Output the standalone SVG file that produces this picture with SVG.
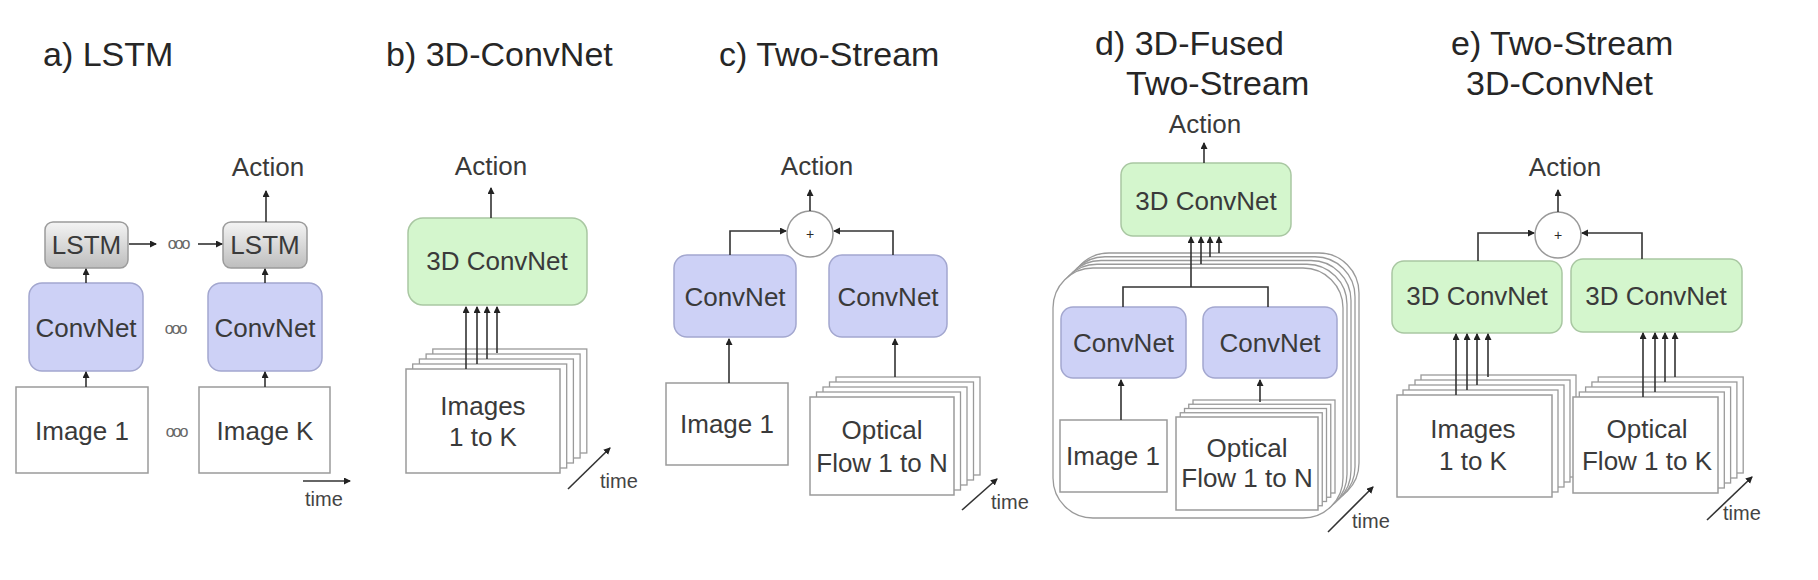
<svg xmlns="http://www.w3.org/2000/svg" width="1818" height="580" viewBox="0 0 1818 580">
<style>
.t{font-family:"Liberation Sans",Arial,sans-serif;fill:#2a2a2a;}
.title{font-size:34px;fill:#262626;}
.lbl{font-size:26px;text-anchor:middle;fill:#3a3a3a;}
.act{font-size:26px;text-anchor:middle;fill:#3a3a3a;}
.tm{font-size:20px;fill:#444;}
.dots{font-size:16px;fill:#666;letter-spacing:-2px;text-anchor:middle;}
.img{fill:#fff;stroke:#9a9a9a;stroke-width:1.5;}
.cn{fill:#cdd1f6;stroke:#a3a7cf;stroke-width:1.5;}
.g3{fill:#d4f6cd;stroke:#a9c7a2;stroke-width:1.5;}
.ls{fill:url(#lg);stroke:#9b9b9b;stroke-width:1.5;}
.fr{fill:#fff;stroke:#9a9a9a;stroke-width:1.3;}
.sum{fill:#fff;stroke:#999;stroke-width:1.5;}
.c{fill:none;stroke:#333;stroke-width:1.6;}
.ca{fill:none;stroke:#333;stroke-width:1.6;marker-end:url(#ah);}
</style>
<defs>
<linearGradient id="lg" x1="0" y1="0" x2="0" y2="1">
<stop offset="0" stop-color="#f4f4f4"/>
<stop offset="1" stop-color="#bdbdbd"/>
</linearGradient>
<marker id="ah" markerUnits="userSpaceOnUse" markerWidth="8" markerHeight="8" refX="6" refY="3.5" orient="auto">
<path d="M0,0 L7,3.5 L0,7 z" fill="#222"/>
</marker>
</defs>
<rect width="1818" height="580" fill="#fff"/>

<!-- titles -->
<g id="titles">
<text class="t title" x="43" y="66">a) LSTM</text>
<text class="t title" x="386" y="66">b) 3D-ConvNet</text>
<text class="t title" x="719" y="66">c) Two-Stream</text>
<text class="t title" x="1095" y="55">d) 3D-Fused</text>
<text class="t title" x="1126" y="95">Two-Stream</text>
<text class="t title" x="1451" y="55">e) Two-Stream</text>
<text class="t title" x="1466" y="95">3D-ConvNet</text>
</g>

<!-- Panel a -->
<g id="a-action"><text class="t act" x="268" y="176">Action</text></g>
<g id="a-lstm1"><rect class="ls" x="45" y="222" width="83" height="46" rx="8"/><text class="t lbl" x="86.5" y="254">LSTM</text></g>
<g id="a-lstm2"><rect class="ls" x="223" y="222" width="84" height="46" rx="8"/><text class="t lbl" x="265" y="254">LSTM</text></g>
<g id="a-conv1"><rect class="cn" x="29" y="283" width="114" height="88" rx="13"/><text class="t lbl" x="86" y="337">ConvNet</text></g>
<g id="a-conv2"><rect class="cn" x="208" y="283" width="114" height="88" rx="13"/><text class="t lbl" x="265" y="337">ConvNet</text></g>
<g id="a-img1"><rect class="img" x="16" y="387" width="132" height="86"/><text class="t lbl" x="82" y="440">Image 1</text></g>
<g id="a-imgk"><rect class="img" x="199" y="387" width="131" height="86"/><text class="t lbl" x="265" y="440">Image K</text></g>
<g id="a-dots">
<text class="t dots" x="178" y="249">ooo</text>
<text class="t dots" x="175" y="334">ooo</text>
<text class="t dots" x="176" y="437">ooo</text>
</g>
<g id="a-time"><text class="t tm" x="305" y="506">time</text></g>

<!-- Panel b -->
<g id="b-action"><text class="t act" x="491" y="175">Action</text></g>
<g id="b-3d"><rect class="g3" x="408" y="218" width="179" height="87" rx="15"/><text class="t lbl" x="497" y="270">3D ConvNet</text></g>
<g id="b-stack">
<rect class="fr" x="432.8" y="349" width="154" height="104"/>
<rect class="fr" x="426.1" y="354" width="154" height="104"/>
<rect class="fr" x="419.4" y="359" width="154" height="104"/>
<rect class="fr" x="412.7" y="364" width="154" height="104"/>
<rect class="img" x="406" y="369" width="154" height="104"/>
<text class="t lbl" x="483" y="415">Images</text>
<text class="t lbl" x="483" y="446">1 to K</text>
</g>
<g id="b-time"><text class="t tm" x="600" y="488">time</text></g>

<!-- Panel c -->
<g id="c-action"><text class="t act" x="817" y="175">Action</text></g>
<g id="c-sum"><circle class="sum" cx="810" cy="234" r="23"/><text class="t" x="810" y="239" font-size="14" text-anchor="middle" fill="#444">+</text></g>
<g id="c-conv1"><rect class="cn" x="674" y="255" width="122" height="82" rx="13"/><text class="t lbl" x="735" y="306">ConvNet</text></g>
<g id="c-conv2"><rect class="cn" x="829" y="255" width="118" height="82" rx="13"/><text class="t lbl" x="888" y="306">ConvNet</text></g>
<g id="c-img1"><rect class="img" x="666" y="383" width="122" height="82"/><text class="t lbl" x="727" y="433">Image 1</text></g>
<g id="c-flow">
<rect class="fr" x="836" y="377" width="144" height="98"/>
<rect class="fr" x="829.5" y="382" width="144" height="98"/>
<rect class="fr" x="823" y="387" width="144" height="98"/>
<rect class="fr" x="816.5" y="392" width="144" height="98"/>
<rect class="img" x="810" y="397" width="144" height="98"/>
<text class="t lbl" x="882" y="439">Optical</text>
<text class="t lbl" x="882" y="472">Flow 1 to N</text>
</g>
<g id="c-time"><text class="t tm" x="991" y="509">time</text></g>

<!-- Panel d -->
<g id="d-action"><text class="t act" x="1205" y="133">Action</text></g>
<g id="d-3d"><rect class="g3" x="1121" y="163" width="170" height="73" rx="12"/><text class="t lbl" x="1206" y="210">3D ConvNet</text></g>
<g id="d-frames">
<rect class="fr" x="1069" y="253" width="290" height="250" rx="40"/>
<rect class="fr" x="1065" y="256.75" width="290" height="250" rx="40"/>
<rect class="fr" x="1061" y="260.5" width="290" height="250" rx="40"/>
<rect class="fr" x="1057" y="264.25" width="290" height="250" rx="40"/>
<rect class="fr" x="1053" y="268" width="290" height="250" rx="40"/>
</g>
<g id="d-conv1"><rect class="cn" x="1061" y="307" width="125" height="71" rx="12"/><text class="t lbl" x="1123.5" y="352">ConvNet</text></g>
<g id="d-conv2"><rect class="cn" x="1203" y="307" width="134" height="71" rx="12"/><text class="t lbl" x="1270" y="352">ConvNet</text></g>
<g id="d-img1"><rect class="img" x="1060" y="420" width="107" height="72"/><text class="t lbl" x="1113" y="465">Image 1</text></g>
<g id="d-flow">
<rect class="fr" x="1193" y="400" width="142" height="93"/>
<rect class="fr" x="1188.75" y="404.25" width="142" height="93"/>
<rect class="fr" x="1184.5" y="408.5" width="142" height="93"/>
<rect class="fr" x="1180.25" y="412.75" width="142" height="93"/>
<rect class="img" x="1176" y="417" width="142" height="93"/>
<text class="t lbl" x="1247" y="457">Optical</text>
<text class="t lbl" x="1247" y="487">Flow 1 to N</text>
</g>
<g id="d-time"><text class="t tm" x="1352" y="528">time</text></g>

<!-- Panel e -->
<g id="e-action"><text class="t act" x="1565" y="176">Action</text></g>
<g id="e-sum"><circle class="sum" cx="1558" cy="235" r="23"/><text class="t" x="1558" y="240" font-size="14" text-anchor="middle" fill="#444">+</text></g>
<g id="e-3d1"><rect class="g3" x="1392" y="261" width="170" height="72" rx="12"/><text class="t lbl" x="1477" y="305">3D ConvNet</text></g>
<g id="e-3d2"><rect class="g3" x="1571" y="259" width="171" height="73" rx="12"/><text class="t lbl" x="1656" y="305">3D ConvNet</text></g>
<g id="e-stack">
<rect class="fr" x="1421" y="375" width="155" height="102"/>
<rect class="fr" x="1415" y="380" width="155" height="102"/>
<rect class="fr" x="1409" y="385" width="155" height="102"/>
<rect class="fr" x="1403" y="390" width="155" height="102"/>
<rect class="img" x="1397" y="395" width="155" height="102"/>
<text class="t lbl" x="1473" y="438">Images</text>
<text class="t lbl" x="1473" y="470">1 to K</text>
</g>
<g id="e-flow">
<rect class="fr" x="1598.2" y="377" width="145" height="96"/>
<rect class="fr" x="1591.9" y="382" width="145" height="96"/>
<rect class="fr" x="1585.6" y="387" width="145" height="96"/>
<rect class="fr" x="1579.3" y="392" width="145" height="96"/>
<rect class="img" x="1573" y="397" width="145" height="96"/>
<text class="t lbl" x="1647" y="438">Optical</text>
<text class="t lbl" x="1647" y="470">Flow 1 to K</text>
</g>
<g id="e-time"><text class="t tm" x="1723" y="520">time</text></g>

<!-- connectors -->
<g id="connectors">
<!-- a -->
<path class="ca" d="M86,387 V372"/>
<path class="ca" d="M265,387 V372"/>
<path class="ca" d="M86,283 V269"/>
<path class="ca" d="M265,283 V269"/>
<path class="ca" d="M129,244 H156"/>
<path class="ca" d="M198,244 H222"/>
<path class="ca" d="M266,222 V191"/>
<path class="ca" d="M303,481 H350"/>
<!-- b -->
<path class="ca" d="M491,218 V188"/>
<path class="ca" d="M466,369 V307"/>
<path class="ca" d="M477,364 V307"/>
<path class="ca" d="M487,359 V307"/>
<path class="ca" d="M497,353 V307"/>
<path class="ca" d="M568,489 L610,448"/>
<!-- c -->
<path class="ca" d="M810,211 V190"/>
<path class="ca" d="M730,255 V231 H786"/>
<path class="ca" d="M893,255 V231 H834"/>
<path class="ca" d="M729,383 V339"/>
<path class="ca" d="M895,377 V339"/>
<path class="ca" d="M962,510 L997,479"/>
<!-- d -->
<path class="ca" d="M1204,163 V143"/>
<path class="c" d="M1123,307 V287 H1268 V307"/>
<path class="ca" d="M1191,287 V237"/>
<path class="ca" d="M1201,264 V237"/>
<path class="ca" d="M1210,257 V237"/>
<path class="ca" d="M1219,253 V237"/>
<path class="ca" d="M1121,420 V380"/>
<path class="ca" d="M1260,402 V380"/>
<path class="ca" d="M1328,532 L1373,487"/>
<!-- e -->
<path class="ca" d="M1558,212 V190"/>
<path class="ca" d="M1478,261 V233 H1534"/>
<path class="ca" d="M1642,259 V233 H1582"/>
<path class="ca" d="M1456,395 V334"/>
<path class="ca" d="M1467,390 V334"/>
<path class="ca" d="M1477,385 V334"/>
<path class="ca" d="M1488,377 V334"/>
<path class="ca" d="M1643,397 V333"/>
<path class="ca" d="M1655,392 V333"/>
<path class="ca" d="M1665,382 V333"/>
<path class="ca" d="M1675,377 V333"/>
<path class="ca" d="M1707,520 L1752,477"/>
</g>
</svg>
